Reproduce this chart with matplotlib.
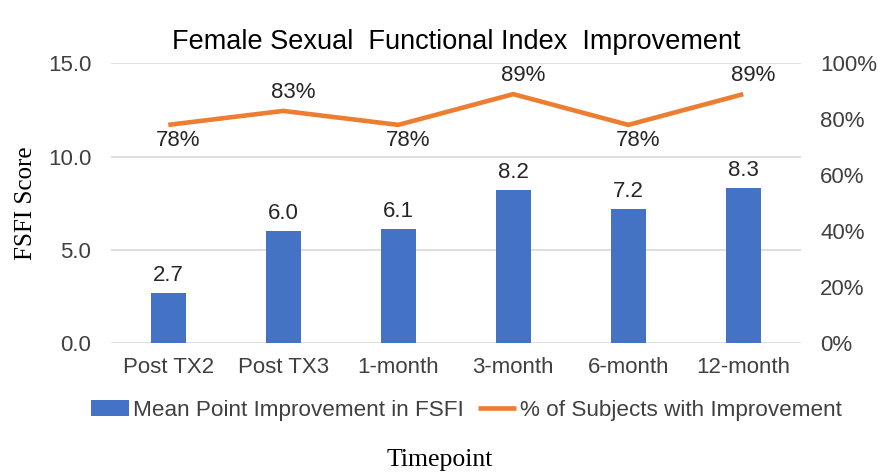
import numpy as np
from matplotlib import pyplot as plt
from matplotlib.ticker import FuncFormatter

# data
timepoints = ['Post TX2', 'Post TX3', '1-month', '3-month', '6-month', '12-month']
mean_improvement = [2.7, 6.0, 6.1, 8.2, 7.2, 8.3]
pct_improved = [78, 83, 78, 89, 78, 89]
pct_label_above = [False, True, False, True, False, True]

BAR_COLOR = '#4472C4'
LINE_COLOR = '#ED7D31'
TEXT_COLOR = '#404040'
LABEL_COLOR = '#262626'

plt.rcParams['font.family'] = ['Liberation Sans', 'DejaVu Sans']

fig = plt.figure(figsize=(8.79, 4.73), dpi=100)
ax = fig.add_axes([0.126, 0.275, 0.785, 0.591])
ax2 = ax.twinx()

x = np.arange(len(timepoints))
bars = ax.bar(x, mean_improvement, width=0.30, color=BAR_COLOR, zorder=2,
              label='Mean Point Improvement in FSFI')
for xi, v in zip(x, mean_improvement):
    ax.annotate('{:.1f}'.format(v), (xi, v), xytext=(0, 5), textcoords='offset points',
                ha='center', va='bottom', fontsize=16, color=LABEL_COLOR)

line, = ax2.plot(x, pct_improved, color=LINE_COLOR, linewidth=3.3, zorder=3,
                 solid_capstyle='butt', label='% of Subjects with Improvement')
# excel put these labels a little to the right of the points
for xi, v, up in zip(x, pct_improved, pct_label_above):
    ax2.annotate('{}%'.format(v), (xi, v), xytext=(7, 6 if up else -4),
                 textcoords='offset points', ha='center',
                 va='bottom' if up else 'top', fontsize=16, color=LABEL_COLOR)

ax.set_xlim(-0.5, len(timepoints) - 0.5)
ax.set_ylim(0, 15)
ax.set_yticks([0, 5, 10, 15])
ax.yaxis.set_major_formatter(FuncFormatter(lambda v, p: '{:.1f}'.format(v)))
ax2.set_ylim(0, 100)
ax2.set_yticks([0, 20, 40, 60, 80, 100])
ax2.yaxis.set_major_formatter(FuncFormatter(lambda v, p: '{:.0f}%'.format(v)))

ax.grid(axis='y', color='#D9D9D9', linewidth=1.2, zorder=0)
ax.set_axisbelow(True)
for a in (ax, ax2):
    for s in a.spines.values():
        s.set_visible(False)
    a.tick_params(length=0, labelsize=16, colors=TEXT_COLOR)
ax.tick_params(axis='y', pad=14)
ax2.tick_params(axis='y', pad=14)
ax.tick_params(axis='x', pad=10)
ax.set_xticks(x)
ax.set_xticklabels(timepoints)

ax.set_ylabel('FSFI Score', fontsize=18, family='Liberation Serif', color='black', labelpad=8)
ax.set_title('Female Sexual  Functional Index  Improvement', fontsize=19.5, color='black', pad=10)

fig.legend(handles=[bars, line], loc='center', bbox_to_anchor=(0.531, 0.133), ncol=2,
           frameon=False, fontsize=16.2, handlelength=1.65, handletextpad=0.2,
           columnspacing=0.65, labelcolor=TEXT_COLOR)
fig.text(0.5, 0.005, 'Timepoint', ha='center', va='bottom', fontsize=18.5,
         family='Liberation Serif')

fig.savefig('out.png', dpi=100)
